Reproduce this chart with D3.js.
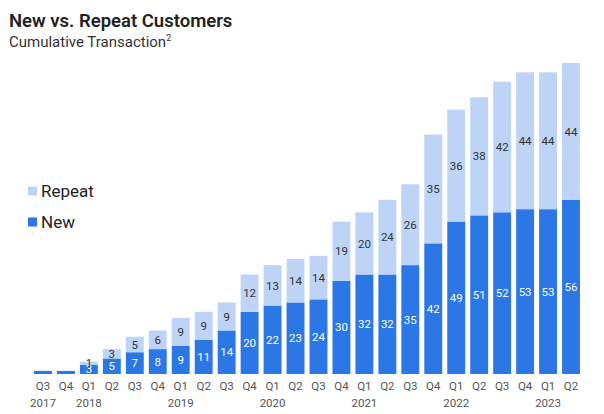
<!DOCTYPE html>
<html><head><meta charset="utf-8">
<script src="https://cdn.jsdelivr.net/npm/d3@7"></script>
<style>body{margin:0;background:#fff;} svg{display:block;}</style>
</head><body>
<svg id="chart" width="604" height="414"></svg>
<script>
const quarters = ["Q3","Q4","Q1","Q2","Q3","Q4","Q1","Q2","Q3","Q4","Q1","Q2","Q3","Q4","Q1","Q2","Q3","Q4","Q1","Q2","Q3","Q4","Q1","Q2"];
const years    = ["2017","","2018","","","","2019","","","","2020","","","","2021","","","","2022","","","","2023",""];
const newVals    = [1,1,3,5,7,8,9,11,14,20,22,23,24,30,32,32,35,42,49,51,52,53,53,56];
const repeatVals = [0,0,1,3,5,6,9,9,9,12,13,14,14,19,20,24,26,35,36,38,42,44,44,44];
const showLabels = [false,false,true,true,true,true,true,true,true,true,true,true,true,true,true,true,true,true,true,true,true,true,true,true];

const darkBlue = "#2a77e5", lightBlue = "#bdd4f6";
const svg = d3.select("#chart");
const font = "Roboto, 'Noto Sans', sans-serif";

const idx = d3.range(quarters.length);
const x = d3.scaleBand().domain(idx).range([31.5, 582.5]).paddingInner(0.22).paddingOuter(0.11);
const y = d3.scaleLinear().domain([0, 100]).range([374, 63]);

// Title
svg.append("text").attr("x", 9).attr("y", 27).attr("font-family", font).attr("font-weight", "600")
  .attr("font-size", 18.5).attr("fill", "#222").text("New vs. Repeat Customers");
const sub = svg.append("text").attr("x", 9).attr("y", 47).attr("font-family", font)
  .attr("font-size", 15).attr("fill", "#333").text("Cumulative Transaction");
sub.append("tspan").attr("font-size", 9).attr("dy", -6).text("2");

const g = svg.append("g");
// New (bottom)
g.selectAll("rect.new").data(idx).join("rect").attr("class", "new")
  .attr("x", i => x(i)).attr("width", x.bandwidth())
  .attr("y", i => y(newVals[i])).attr("height", i => y(0) - y(newVals[i]))
  .attr("fill", darkBlue);
// Repeat (top)
g.selectAll("rect.rep").data(idx).join("rect").attr("class", "rep")
  .attr("x", i => x(i)).attr("width", x.bandwidth())
  .attr("y", i => y(newVals[i] + repeatVals[i])).attr("height", i => y(newVals[i]) - y(newVals[i] + repeatVals[i]))
  .attr("fill", lightBlue);

const lab = idx.filter(i => showLabels[i]);
g.selectAll("text.newl").data(lab).join("text").attr("class", "newl")
  .attr("x", i => x(i) + x.bandwidth() / 2)
  .attr("y", i => y(newVals[i] / 2))
  .attr("dy", "0.36em").attr("text-anchor", "middle")
  .attr("font-family", font).attr("font-size", 11.5).attr("fill", "#fff")
  .text(i => newVals[i]);
g.selectAll("text.repl").data(lab).join("text").attr("class", "repl")
  .attr("x", i => x(i) + x.bandwidth() / 2)
  .attr("y", i => y(newVals[i] + repeatVals[i] / 2))
  .attr("dy", "0.36em").attr("text-anchor", "middle")
  .attr("font-family", font).attr("font-size", 11.5).attr("fill", "#333")
  .text(i => repeatVals[i]);

// X axis
const ax = svg.append("g").attr("transform", "translate(0,382)")
  .call(d3.axisBottom(x).tickSize(0).tickPadding(0).tickFormat(i => quarters[i]));
ax.select(".domain").remove();
ax.selectAll("text").attr("font-family", font).attr("font-size", 11.5).attr("fill", "#555").attr("dy", "0.71em");
ax.selectAll(".tick").append("text")
  .attr("y", 16.5).attr("dy", "0.71em").attr("text-anchor", "middle")
  .attr("font-family", font).attr("font-size", 11.5).attr("fill", "#555")
  .text(i => years[i]);

// Legend
const legend = [{name: "Repeat", color: lightBlue, y: 191}, {name: "New", color: darkBlue, y: 222}];
const lg = svg.append("g");
lg.selectAll("rect").data(legend).join("rect")
  .attr("x", 28).attr("y", d => d.y - 4.5).attr("width", 9).attr("height", 9).attr("fill", d => d.color);
lg.selectAll("text").data(legend).join("text")
  .attr("x", 41).attr("y", d => d.y).attr("dy", "0.36em")
  .attr("font-family", font).attr("font-size", 17).attr("fill", "#222")
  .text(d => d.name);
</script>
</body></html>
